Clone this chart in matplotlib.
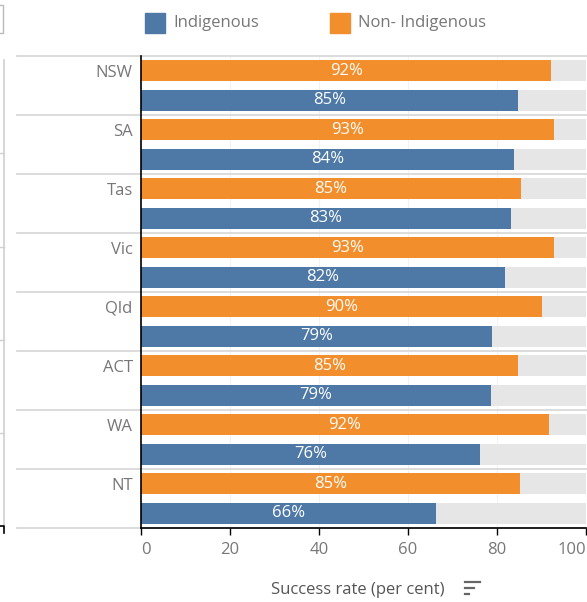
import matplotlib.pyplot as plt
from matplotlib.patches import Rectangle
from matplotlib.lines import Line2D

plt.rcParams['font.family'] = ['Open Sans', 'DejaVu Sans']

# data
states = ['NSW', 'SA', 'Tas', 'Vic', 'Qld', 'ACT', 'WA', 'NT']
non_indigenous = [92.2, 92.9, 85.4, 92.9, 90.1, 84.8, 91.6, 85.1]
indigenous = [84.8, 83.9, 83.1, 81.7, 78.8, 78.6, 76.1, 66.4]
x_ticks = [0, 20, 40, 60, 80, 100]

blue = '#4e79a7'
orange = '#f28e2b'
grey_bg = '#e6e6e6'
sep_col = '#d9d9d9'
txt_col = '#777777'
fs = 12

W, H = 587, 602
fig = plt.figure(figsize=(W / 100, H / 100), dpi=100)
ax = fig.add_axes([141 / W, 1 - 528 / H, 445 / W, (528 - 56) / H])

bar_h = 0.36
y_orange = [i + 0.25 for i in range(len(states))]
y_blue = [i + 0.75 for i in range(len(states))]

# grey background bars up to 100
ax.barh(y_orange, [100] * len(states), height=bar_h, color=grey_bg, zorder=1)
ax.barh(y_blue, [100] * len(states), height=bar_h, color=grey_bg, zorder=1)
ax.barh(y_orange, non_indigenous, height=bar_h, color=orange, zorder=2)
ax.barh(y_blue, indigenous, height=bar_h, color=blue, zorder=2)

for y, v in zip(y_orange, non_indigenous):
    ax.text(v / 2, y, f"{round(v)}%", ha='center', va='center',
            color='white', fontsize=fs, zorder=3)
for y, v in zip(y_blue, indigenous):
    ax.text(v / 2, y, f"{round(v)}%", ha='center', va='center',
            color='white', fontsize=fs, zorder=3)

# state separators reaching into the left margin
for i in range(len(states) + 1):
    ax.axhline(i, xmin=-0.279, xmax=1, color=sep_col, lw=1.3,
               clip_on=False, zorder=0.5)

for t in x_ticks[1:]:
    ax.axvline(t, color='#f2f2f2', lw=0.8, zorder=0)

ax.set_xlim(0, 100)
ax.set_ylim(len(states), 0)

ax.set_yticks(y_orange)
ax.set_yticklabels(states, color=txt_col, fontsize=fs)
ax.tick_params(axis='y', length=0, pad=6)

ax.set_xticks(x_ticks)
ax.set_xticklabels([str(t) for t in x_ticks], color=txt_col, fontsize=fs)
ax.tick_params(axis='x', length=5, width=1, color='black', pad=5)
lbls = ax.get_xticklabels()
lbls[0].set_ha('left')
lbls[-1].set_ha('right')

for s in ['top', 'right']:
    ax.spines[s].set_visible(False)
ax.spines['left'].set_color('black')
ax.spines['bottom'].set_color('black')
ax.spines['left'].set_linewidth(1.2)
ax.spines['bottom'].set_linewidth(1.2)

# x axis title and sort icon
fig.text(358 / W, 1 - 590 / H, 'Success rate (per cent)', ha='center',
         va='center', color='#555555', fontsize=fs)
for y0, x1 in [(582, 480), (588, 474), (594, 469)]:
    fig.add_artist(Line2D([465 / W, x1 / W], [1 - y0 / H, 1 - y0 / H],
                          color='#666666', lw=1.6))

# legend
fig.add_artist(Rectangle((145 / W, 1 - 33 / H), 20 / W, 20 / H,
                         color=blue, transform=fig.transFigure))
fig.text(173 / W, 1 - 23 / H, 'Indigenous', ha='left', va='center',
         color=txt_col, fontsize=fs)
fig.add_artist(Rectangle((330 / W, 1 - 33 / H), 20 / W, 20 / H,
                         color=orange, transform=fig.transFigure))
fig.text(358 / W, 1 - 23 / H, 'Non- Indigenous', ha='left', va='center',
         color=txt_col, fontsize=fs)

# remnants of neighbouring panel on the far left
fig.add_artist(Rectangle((-10 / W, 1 - 33 / H), 13 / W, 28 / H, fill=False,
                         edgecolor='#bbbbbb', lw=1, transform=fig.transFigure))
fig.add_artist(Line2D([4 / W, 4 / W], [1 - 60 / H, 1 - 528 / H],
                      color='#d0d0d0', lw=1.2))
for yt in [153, 247, 340, 433]:
    fig.add_artist(Line2D([0, 4 / W], [1 - yt / H, 1 - yt / H],
                          color='#d0d0d0', lw=1))
fig.add_artist(Line2D([0, 4 / W, 4 / W], [1 - 526 / H, 1 - 526 / H, 1 - 533 / H],
                      color='black', lw=1.2))

fig.savefig('out.png', dpi=100)
